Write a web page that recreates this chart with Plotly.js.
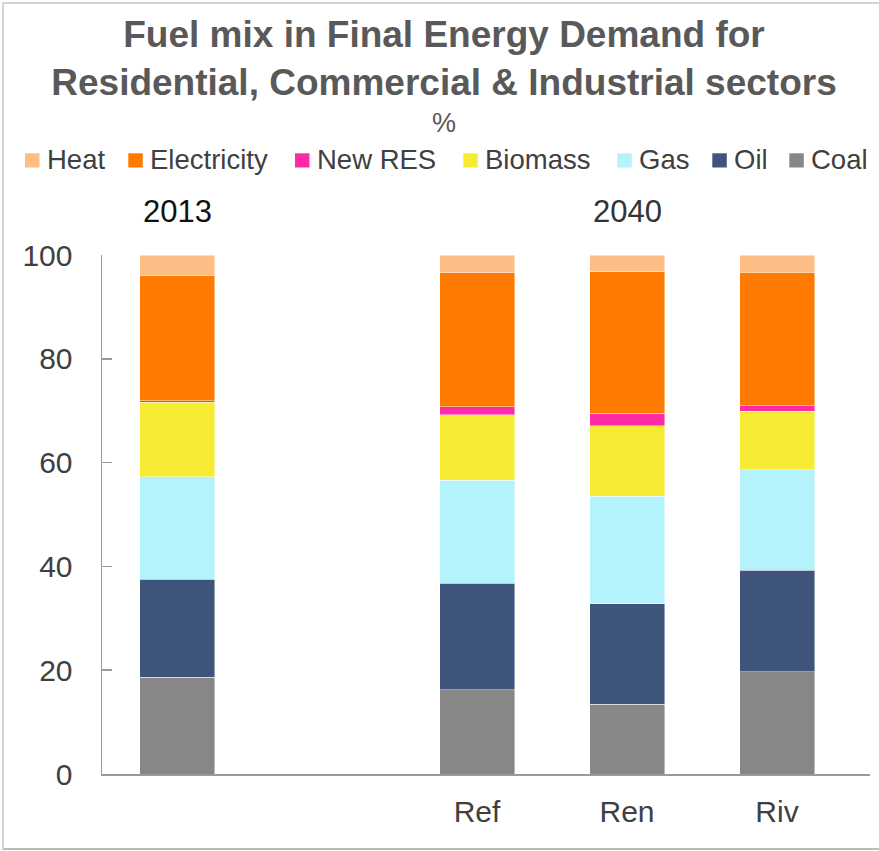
<!DOCTYPE html>
<html>
<head>
<meta charset="utf-8">
<script src="https://cdn.plot.ly/plotly-3.0.1.min.js"></script>
<style>
  html, body { margin: 0; padding: 0; background: #fff; overflow: hidden; }
  #wrap { position: relative; width: 879px; height: 851px; }
  #chart { position: absolute; left: 0; top: 0; width: 879px; height: 851px; }
  #frame { position: absolute; left: 2px; top: 2px; width: 900px; height: 844px;
           border: 2px solid #d8d4d0; border-bottom-color: #bdb9b5; pointer-events: none; }
</style>
</head>
<body>
<div id="wrap"><div id="chart"></div><div id="frame"></div></div>
<script>
// ---- data ----
const categories = ['2013', ' ', 'Ref', 'Ren', 'Riv'];
const barCategories = ['2013', 'Ref', 'Ren', 'Riv'];
const coal        = [18.6, 16.2, 13.4, 19.7];
const oil         = [18.9, 20.6, 19.4, 19.6];
const gas         = [19.8, 19.8, 20.7, 19.3];
const biomass     = [14.3, 12.6, 13.6, 11.3];
const newRES      = [0.3, 1.6, 2.4, 1.1];
const electricity = [24.2, 25.8, 27.3, 25.7];
const heat        = [3.9, 3.4, 3.2, 3.3];
const seriesNames = ['Coal', 'Oil', 'Gas', 'Biomass', 'New RES', 'Electricity', 'Heat'];
const seriesData  = [coal, oil, gas, biomass, newRES, electricity, heat];
const seriesColors = ['#878787', '#3F547B', '#B4F2FC', '#F7EB34', '#FF2AA5', '#FF7A00', '#FFBD86'];
const yTicks = [0, 20, 40, 60, 80, 100];
const groupLabels = [{text: '2013', at: '2013', color: '#111111'}, {text: '2040', at: 'Ren', color: '#333333'}];

// ---- layout geometry (pixels) ----
const W = 879, H = 851;
const M = {l: 102, r: 9, t: 255, b: 77};
const PW = W - M.l - M.r, PH = H - M.t - M.b;
const px2x = p => (p - M.l) / PW;
const px2y = p => (H - M.b - p) / PH;

const FONT = 'Liberation Sans, Arial, Helvetica, sans-serif';

const traces = seriesNames.map((name, i) => ({
  type: 'bar',
  name: name,
  x: barCategories,
  y: seriesData[i],
  width: 0.5,
  marker: {color: seriesColors[i], line: {color: 'rgba(255,255,255,0.55)', width: 0.8}},
  showlegend: false,
  hoverinfo: 'name+y'
}));

// legend (order as in reference: reversed stack order)
const legendOrder = seriesNames.map((n, i) => i).reverse();
const legendSwatchX = [25, 128.3, 295, 463.3, 617.3, 712.3, 789.3];
const shapes = [];
const annotations = [];
legendOrder.forEach((si, k) => {
  const x0 = legendSwatchX[k];
  shapes.push({type: 'rect', xref: 'paper', yref: 'paper',
    x0: px2x(x0), x1: px2x(x0 + 14.5), y0: px2y(167.5), y1: px2y(153.3),
    fillcolor: seriesColors[si], line: {width: 0}});
  annotations.push({xref: 'paper', yref: 'paper', x: px2x(x0 + 19.5), y: px2y(159.5),
    xanchor: 'left', yanchor: 'middle', showarrow: false, text: seriesNames[si],
    font: {family: FONT, size: 27.5, color: '#404040'}});
});
annotations.push({xref: 'paper', yref: 'paper', x: px2x(444), y: px2y(123),
  xanchor: 'center', yanchor: 'middle', showarrow: false, text: '%',
  font: {family: FONT, size: 27, color: '#595959'}});
groupLabels.forEach(g => {
  annotations.push({xref: 'x', yref: 'paper', x: categories.indexOf(g.at), y: px2y(211.5),
    xanchor: 'center', yanchor: 'middle', showarrow: false, text: g.text,
    font: {family: FONT, size: 31, color: g.color}});
});

const layout = {
  width: W, height: H,
  margin: M,
  paper_bgcolor: '#ffffff', plot_bgcolor: '#ffffff',
  barmode: 'stack',
  showlegend: false,
  title: {
    text: '<b>Fuel mix in Final Energy Demand for<br>Residential, Commercial & Industrial sectors</b>',
    font: {family: FONT, size: 37, color: '#595959'},
    x: 444 / W, xref: 'container', xanchor: 'center',
    y: 1 - 47 / H, yref: 'container', yanchor: 'top'
  },
  xaxis: {
    type: 'category',
    categoryorder: 'array', categoryarray: categories,
    range: [-0.5, -0.5 + PW / 150],
    tickvals: ['Ref', 'Ren', 'Riv'],
    ticks: '', showgrid: false, zeroline: false,
    showline: true, linecolor: '#9a9a9a', linewidth: 1.5,
    tickfont: {family: FONT, size: 30, color: '#404040'},
    ticklabelstandoff: 10,
    fixedrange: true
  },
  yaxis: {
    range: [0, 100],
    tickvals: yTicks,
    ticks: 'inside', ticklen: 10, tickcolor: '#9a9a9a', tickwidth: 1.5,
    showgrid: false, zeroline: false,
    showline: true, linecolor: '#9a9a9a', linewidth: 1.5,
    tickfont: {family: FONT, size: 30, color: '#404040'},
    ticklabelstandoff: 22,
    fixedrange: true
  },
  shapes: shapes,
  annotations: annotations
};

Plotly.newPlot('chart', traces, layout, {displayModeBar: false, staticPlot: true});
</script>
</body>
</html>
